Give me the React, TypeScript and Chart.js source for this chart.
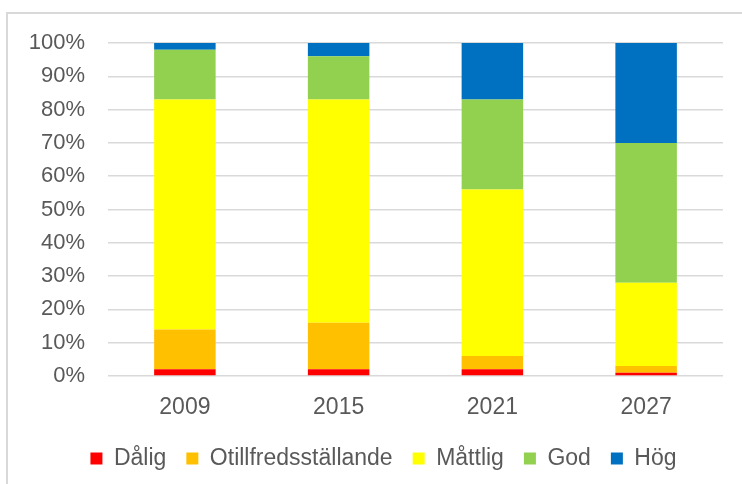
import React, { useEffect, useRef } from "react";
import { Chart, registerables } from "chart.js";

Chart.register(...registerables);

const categories = ["2009", "2015", "2021", "2027"];
const seriesNames = ["Dålig", "Otillfredsställande", "Måttlig", "God", "Hög"];
const dalig = [2, 2, 2, 1];
const otillfredsstallande = [12, 14, 4, 2];
const mattlig = [69, 67, 50, 25];
const god = [15, 13, 27, 42];
const hog = [2, 4, 17, 30];
const seriesColors = ["#FF0000", "#FFC000", "#FFFF00", "#92D050", "#0070C0"];
const yTicks = [0, 10, 20, 30, 40, 50, 60, 70, 80, 90, 100];

const legendShift = {
  id: "legendShift",
  afterLayout(chart: any) {
    const lg = chart.legend;
    if (lg) {
      lg.left += 22;
      lg.right += 22;
    }
  },
};

export default function App() {
  const ref = useRef<HTMLCanvasElement | null>(null);

  useEffect(() => {
    if (!ref.current) return;
    const values = [dalig, otillfredsstallande, mattlig, god, hog];
    const chart = new Chart(ref.current, {
      type: "bar",
      data: {
        labels: categories,
        datasets: seriesNames.map((name, i) => ({
          label: name,
          data: values[i],
          backgroundColor: seriesColors[i],
          borderWidth: 0,
          barPercentage: 0.4,
          categoryPercentage: 1,
        })),
      },
      plugins: [legendShift],
      options: {
        responsive: false,
        animation: false,
        devicePixelRatio: 1,
        layout: { padding: { left: 0, right: 19, top: 43, bottom: 4 } },
        plugins: {
          tooltip: { enabled: false },
          legend: {
            position: "bottom",
            labels: {
              boxWidth: 12,
              boxHeight: 12,
              padding: 20,
              color: "#595959",
              font: { family: "'Liberation Sans', Arial, sans-serif", size: 23 },
            },
          },
        },
        scales: {
          x: {
            stacked: true,
            grid: { display: false, drawTicks: false },
            border: { display: false },
            ticks: {
              color: "#595959",
              padding: 18,
              font: { family: "'Liberation Sans', Arial, sans-serif", size: 23 },
            },
            afterFit: (scale: any) => {
              scale.height = 51;
            },
          },
          y: {
            stacked: true,
            min: 0,
            max: 100,
            afterBuildTicks: (scale: any) => {
              scale.ticks = yTicks.map((v) => ({ value: v }));
            },
            grid: { color: "#d9d9d9", lineWidth: 1.5, drawTicks: false },
            border: { display: false },
            ticks: {
              color: "#595959",
              padding: 23,
              font: { family: "'Liberation Sans', Arial, sans-serif", size: 22 },
              callback: (v: any) => v + "%",
            },
            afterFit: (scale: any) => {
              scale.width = 108;
            },
          },
        },
      },
    });
    return () => chart.destroy();
  }, []);

  return (
    <div style={{ position: "absolute", left: 0, top: 0, width: 742, height: 484, background: "#fff", overflow: "hidden" }}>
      <div
        style={{
          position: "absolute",
          left: 6,
          top: 12,
          width: 780,
          height: 520,
          border: "2px solid #d9d9d9",
          boxSizing: "border-box",
        }}
      />
      <canvas ref={ref} width={742} height={484} style={{ position: "absolute", left: 0, top: 0, width: 742, height: 484 }} />
    </div>
  );
}
